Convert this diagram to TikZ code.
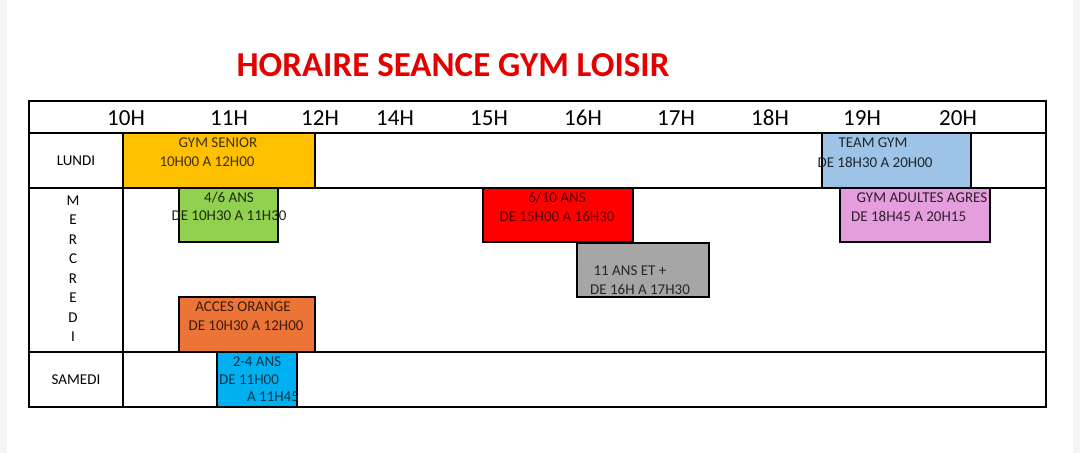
\documentclass[tikz,border=0pt]{standalone}
\usepackage{fontspec}
\setmainfont{Carlito}
\begin{document}
\begin{tikzpicture}[x=1pt,y=-1pt,
  grid/.style={line width=1.6pt,black},
  slot/.style={draw=black,line width=1.3pt},
  hd/.style={font=\fontsize{23}{23}\selectfont},
  tx/.style={font=\fontsize{15}{15}\selectfont,inner sep=0pt},
  day/.style={font=\fontsize{15}{15}\selectfont,inner sep=0pt}]
\useasboundingbox (0,0) rectangle (1080,453);
\fill[gray!8] (0,0) rectangle (1080,453);
\fill[white] (7,0) rectangle (1073,453);
\node[font=\bfseries\fontsize{35}{35}\selectfont,text=red!90!black] (title) at (453,65) {HORAIRE SEANCE GYM LOISIR};
% boxes
\definecolor{cy}{HTML}{FFC000}\definecolor{cg}{HTML}{92D050}\definecolor{cr}{HTML}{FF0000}
\definecolor{cgr}{HTML}{A6A6A6}\definecolor{co}{HTML}{EB7436}\definecolor{cb}{HTML}{00B0F0}
\definecolor{ct}{HTML}{9DC3E6}\definecolor{cp}{HTML}{E49EDD}
\filldraw[slot,fill=cy] (123,133) rectangle (315,188);
\filldraw[slot,fill=cg] (179,188) rectangle (278,242);
\filldraw[slot,fill=cr] (483,188) rectangle (633,242);
\filldraw[slot,fill=cgr] (577,243) rectangle (709,297);
\filldraw[slot,fill=co] (179,297) rectangle (315,352);
\filldraw[slot,fill=cb] (217,352) rectangle (297,407);
\filldraw[slot,fill=ct] (822,133) rectangle (971,188);
\filldraw[slot,fill=cp] (840,188) rectangle (990,242);
% grid
\draw[grid] (29,101) rectangle (1046,407);
\draw[grid] (29,133) -- (1046,133);
\draw[grid] (29,188) -- (1046,188);
\draw[grid] (29,352) -- (1046,352);
\draw[grid] (123,133) -- (123,407);
% header
\foreach \x/\t in {126/10H,229/11H,320/12H,395/14H,489/15H,583/16H,676/17H,770/18H,862/19H,958/20H}
  \node[hd] (h\t) at (\x,118) {\t};
% days
\node[day] (lundi) at (76,161) {LUNDI};
\node[day] (samedi) at (76,380) {SAMEDI};
\foreach \l/\y [count=\i] in {M/201,E/220,R/240,C/259,R/279,E/298,D/318,I/337}
  \node[day] (m\i) at (73,\y) {\l};
% texts
\node[tx,text=black!75!cy] (a1) at (218,143) {GYM SENIOR};
\node[tx,text=black!75!cy] (a2) at (207,162) {10H00 A 12H00};
\node[tx,text=black!80!cg] (b1) at (229,198) {4/6 ANS};
\node[tx,text=black!80!cg] (b2) at (229,216) {DE 10H30 A 11H30};
\node[tx,text=black!65!cr] (c1) at (557,198) {6/10 ANS};
\node[tx,text=black!65!cr] (c2) at (557,216) {DE 15H00 A 16H30};
\node[tx,text=black!85] (d1) at (630,271) {11 ANS ET +};
\node[tx,text=black!85] (d2) at (640,289) {DE 16H A 17H30};
\node[tx,text=black!75!co] (e1) at (243,307) {ACCES ORANGE};
\node[tx,text=black!75!co] (e2) at (246,326) {DE 10H30 A 12H00};
\node[tx,text=black!70!cb] (f1) at (257,362) {2-4 ANS};
\node[tx,text=black!70!cb,anchor=west] (f2) at (219,380) {DE 11H00};
\node[tx,text=black!70!cb] (f3) at (273,397) {A 11H45};
\node[tx,text=black!80!ct] (g1) at (873,143) {TEAM GYM};
\node[tx,text=black!80!ct] (g2) at (875,162) {DE 18H30 A 20H00};
\node[tx,text=black!80!cp] (p1) at (922,198) {GYM ADULTES AGRES};
\node[tx,text=black!80!cp,anchor=west] (p2) at (851,216) {DE 18H45 A 20H15};
\end{tikzpicture}
\end{document}
